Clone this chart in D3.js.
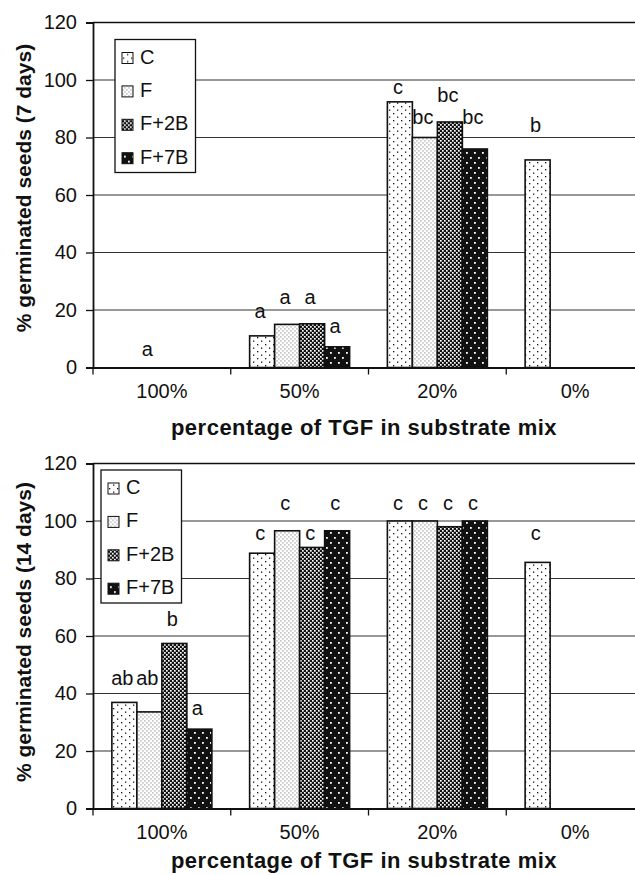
<!DOCTYPE html>
<html>
<head>
<meta charset="utf-8">
<script src="https://cdn.jsdelivr.net/npm/d3@7"></script>
<style>
  body { margin: 0; background: #fff; }
  svg { display: block; font-family: "Liberation Sans", Arial, sans-serif; }
</style>
</head>
<body>
<svg id="chart"></svg>
<script>
/** Chart data */
let categories = ['100%', '50%', '20%', '0%'];
let series = ['C', 'F', 'F+2B', 'F+7B'];
let yTicks = [0, 20, 40, 60, 80, 100, 120];

// 7 days
let days7C = [0, 11, 92.4, 72.2];
let days7F = [0, 15, 80, null];
let days7F2B = [0, 15.2, 85.4, null];
let days7F7B = [0, 7.2, 76, null];

let letters7C = ['', 'a', 'c', 'b'];
let letters7F = ['a', 'a', 'bc', ''];
let letters7F2B = ['', 'a', 'bc', ''];
let letters7F7B = ['', 'a', 'bc', ''];

// level (in % units) where each letter sits
let level7C = [null, 17.1, 95.1, 82];
let level7F = [4, 22.1, 84.7, null];
let level7F2B = [null, 22.1, 92.5, null];
let level7F7B = [null, 11.9, 84.7, null];

// 14 days
let days14C = [36.9, 88.8, 100, 85.6];
let days14F = [33.6, 96.6, 100, null];
let days14F2B = [57.4, 90.8, 98, null];
let days14F7B = [27.6, 96.6, 100, null];

let letters14C = ['ab', 'c', 'c', 'c'];
let letters14F = ['ab', 'c', 'c', ''];
let letters14F2B = ['b', 'c', 'c', ''];
let letters14F7B = ['a', 'c', 'c', ''];

let level14C = [43.1, 93.3, 103.8, 93.3];
let level14F = [43.1, 103.9, 103.8, null];
let level14F2B = [63.4, 93.3, 103.8, null];
let level14F7B = [32.6, 103.9, 103.8, null];

let width = 635;
let height = 875;

let svg = d3.select('#chart')
    .attr('width', width)
    .attr('height', height);

/** Fill patterns */
const drawPatterns = () => {
    let defs = svg.append('defs');

    let pC = defs.append('pattern').attr('id', 'pat-C')
        .attr('patternUnits', 'userSpaceOnUse').attr('width', 8).attr('height', 7);
    pC.append('rect').attr('width', 8).attr('height', 7).attr('fill', '#fff');
    pC.append('rect').attr('x', 1).attr('y', 1).attr('width', 1.3).attr('height', 1.3).attr('fill', '#111');
    pC.append('rect').attr('x', 5).attr('y', 4.5).attr('width', 1.3).attr('height', 1.3).attr('fill', '#111');

    let pF = defs.append('pattern').attr('id', 'pat-F')
        .attr('patternUnits', 'userSpaceOnUse').attr('width', 4).attr('height', 4);
    pF.append('rect').attr('width', 4).attr('height', 4).attr('fill', '#fff');
    pF.append('rect').attr('x', 0.5).attr('y', 0.5).attr('width', 0.9).attr('height', 0.9).attr('fill', '#333');
    pF.append('rect').attr('x', 2.5).attr('y', 2.5).attr('width', 0.9).attr('height', 0.9).attr('fill', '#333');

    let pF2B = defs.append('pattern').attr('id', 'pat-F+2B')
        .attr('patternUnits', 'userSpaceOnUse').attr('width', 4).attr('height', 4);
    pF2B.append('rect').attr('width', 4).attr('height', 4).attr('fill', '#111');
    pF2B.append('rect').attr('x', 0).attr('y', 0).attr('width', 1.7).attr('height', 1.7).attr('fill', '#fff');
    pF2B.append('rect').attr('x', 2).attr('y', 2).attr('width', 1.7).attr('height', 1.7).attr('fill', '#fff');

    let pF7B = defs.append('pattern').attr('id', 'pat-F+7B')
        .attr('patternUnits', 'userSpaceOnUse').attr('width', 8).attr('height', 10);
    pF7B.append('rect').attr('width', 8).attr('height', 10).attr('fill', '#111');
    pF7B.append('rect').attr('x', 2).attr('y', 2).attr('width', 1.8).attr('height', 1.8).attr('fill', '#fff');
    pF7B.append('rect').attr('x', 6).attr('y', 7).attr('width', 1.8).attr('height', 1.8).attr('fill', '#fff');
};

/** Shared x scales */
let xScale = d3.scaleBand()
    .domain(categories)
    .range([93, 644])
    .padding(0);

let xInner = d3.scaleBand()
    .domain(series)
    .range([0, xScale.bandwidth()])
    .paddingInner(0)
    .paddingOuter(0.755);

/** One panel */
const drawPanel = (opts) => {
    let yScale = d3.scaleLinear()
        .domain([0, 120])
        .range([opts.bottom, opts.top]);

    let g = svg.append('g');

    // gridlines
    g.append('g')
        .selectAll('line')
        .data(yTicks.filter(d => d > 0))
        .enter()
        .append('line')
        .attr('x1', 93)
        .attr('x2', width)
        .attr('y1', d => yScale(d))
        .attr('y2', d => yScale(d))
        .attr('stroke', d => d === 120 ? '#111' : '#333')
        .attr('stroke-width', d => d === 120 ? 1.6 : 1.1);

    // bars
    let rows = [];
    categories.forEach((cat, i) => {
        series.forEach((s, j) => {
            rows.push({
                cat: cat,
                s: s,
                value: opts.values[j][i],
                letter: opts.letters[j][i],
                level: opts.levels[j][i]
            });
        });
    });

    g.append('g')
        .selectAll('rect')
        .data(rows.filter(d => d.value !== null && d.value > 0))
        .enter()
        .append('rect')
        .attr('x', d => xScale(d.cat) + xInner(d.s))
        .attr('width', xInner.bandwidth())
        .attr('y', d => yScale(d.value))
        .attr('height', d => yScale(0) - yScale(d.value))
        .attr('fill', d => `url(#pat-${d.s})`)
        .attr('stroke', '#111')
        .attr('stroke-width', 1.6);

    // significance letters
    g.append('g')
        .selectAll('text')
        .data(rows.filter(d => d.letter !== ''))
        .enter()
        .append('text')
        .attr('x', d => xScale(d.cat) + xInner(d.s) + xInner.bandwidth() / 2 - 2)
        .attr('y', d => yScale(d.level))
        .attr('text-anchor', 'middle')
        .attr('font-size', 20)
        .attr('fill', '#111')
        .text(d => d.letter);

    // y axis
    let yAxis = d3.axisLeft(yScale)
        .tickValues(yTicks)
        .tickSize(7)
        .tickPadding(9);

    let ya = g.append('g')
        .attr('transform', 'translate(93, 0)')
        .call(yAxis);
    ya.select('.domain').attr('stroke', '#111').attr('stroke-width', 1.8);
    ya.selectAll('.tick line').attr('stroke', '#111').attr('stroke-width', 1.3);
    ya.selectAll('.tick text')
        .attr('font-size', 20)
        .attr('font-family', '"Liberation Sans", Arial, sans-serif')
        .attr('fill', '#111');

    // x axis
    let xAxis = d3.axisBottom(xScale)
        .tickSize(0)
        .tickPadding(16);

    let xa = g.append('g')
        .attr('transform', `translate(0, ${opts.bottom})`)
        .call(xAxis);
    xa.select('.domain').attr('stroke', '#111').attr('stroke-width', 1.8);
    xa.selectAll('.tick text')
        .attr('font-size', 20)
        .attr('font-family', '"Liberation Sans", Arial, sans-serif')
        .attr('fill', '#111');

    // tick marks between categories
    g.append('g')
        .selectAll('line')
        .data(categories)
        .enter()
        .append('line')
        .attr('x1', d => xScale(d))
        .attr('x2', d => xScale(d))
        .attr('y1', opts.bottom)
        .attr('y2', opts.bottom + 7)
        .attr('stroke', '#111')
        .attr('stroke-width', 1.3);

    // axis titles
    g.append('text')
        .attr('x', 364)
        .attr('y', opts.xTitleY)
        .attr('text-anchor', 'middle')
        .attr('font-size', 22)
        .attr('font-weight', 'bold')
        .attr('letter-spacing', 0.5)
        .attr('fill', '#111')
        .text('percentage of TGF in substrate mix');

    g.append('text')
        .attr('transform', `translate(31, ${opts.yTitleY}) rotate(-90)`)
        .attr('text-anchor', 'middle')
        .attr('font-size', 21)
        .attr('font-weight', 'bold')
        .attr('fill', '#111')
        .text(opts.yTitle);

    // legend
    let lg = g.append('g')
        .attr('transform', `translate(${opts.legendX}, ${opts.legendY})`);
    lg.append('rect')
        .attr('width', 80.5)
        .attr('height', 133)
        .attr('fill', '#fff')
        .attr('stroke', '#111')
        .attr('stroke-width', 1.3);

    let items = lg.selectAll('g.item')
        .data(series)
        .enter()
        .append('g')
        .attr('class', 'item')
        .attr('transform', (d, i) => `translate(7, ${24 + i * 33.4})`);
    items.append('rect')
        .attr('y', -11)
        .attr('width', 11)
        .attr('height', 11)
        .attr('fill', d => `url(#pat-${d})`)
        .attr('stroke', '#111')
        .attr('stroke-width', 1);
    items.append('text')
        .attr('x', 18)
        .attr('y', 0)
        .attr('font-size', 20)
        .attr('fill', '#111')
        .text(d => d);
};

drawPatterns();

drawPanel({
    top: 22.5,
    bottom: 367.5,
    values: [days7C, days7F, days7F2B, days7F7B],
    letters: [letters7C, letters7F, letters7F2B, letters7F7B],
    levels: [level7C, level7F, level7F2B, level7F7B],
    xTitleY: 435,
    yTitle: '% germinated seeds (7 days)',
    yTitleY: 188,
    legendX: 115,
    legendY: 39.5
});

drawPanel({
    top: 463.5,
    bottom: 808.5,
    values: [days14C, days14F, days14F2B, days14F7B],
    letters: [letters14C, letters14F, letters14F2B, letters14F7B],
    levels: [level14C, level14F, level14F2B, level14F7B],
    xTitleY: 868,
    yTitle: '% germinated seeds (14 days)',
    yTitleY: 632,
    legendX: 101,
    legendY: 470
});
</script>
</body>
</html>
